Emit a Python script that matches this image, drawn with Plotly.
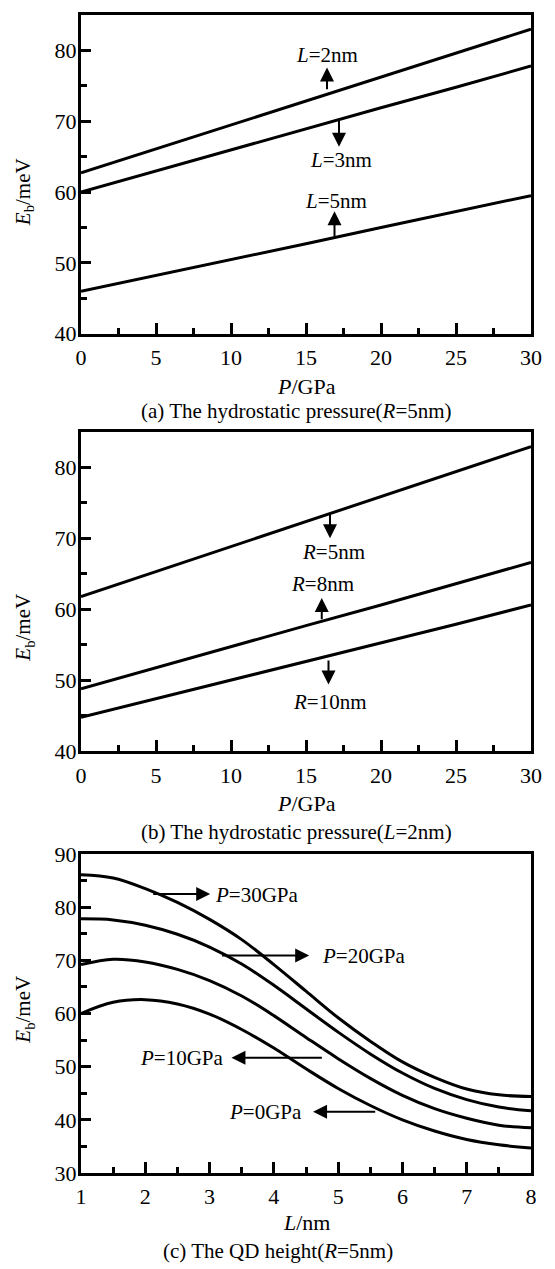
import plotly.graph_objects as go

# ---------------- data ----------------
P_vals = [0, 5, 10, 15, 20, 25, 30]
Eb_L2 = [62.7, 66.1, 69.5, 72.9, 76.3, 79.7, 83.0]
Eb_L3 = [60.0, 63.0, 65.9, 68.9, 71.9, 74.8, 77.8]
Eb_L5 = [46.0, 48.2, 50.5, 52.7, 55.0, 57.3, 59.5]

Eb_R5 = [61.8, 65.3, 68.8, 72.3, 75.9, 79.4, 82.9]
Eb_R8 = [48.8, 51.8, 54.7, 57.7, 60.6, 63.6, 66.6]
Eb_R10 = [44.8, 47.4, 50.0, 52.6, 55.2, 57.9, 60.6]

L_vals = [1, 1.5, 2, 2.5, 3, 3.5, 4, 4.5, 5, 5.5, 6, 6.5, 7, 7.5, 8]
Eb_P30 = [86.1, 85.5, 83.5, 80.9, 77.7, 73.9, 69.2, 64.2, 59.2, 54.8, 50.9, 48.0, 45.8, 44.7, 44.4]
Eb_P20 = [77.8, 77.6, 76.6, 74.9, 72.5, 69.3, 65.3, 60.9, 56.5, 52.4, 48.8, 45.9, 43.8, 42.4, 41.7]
Eb_P10 = [69.2, 70.2, 69.7, 68.3, 66.2, 63.3, 59.6, 55.5, 51.5, 47.8, 44.6, 42.1, 40.3, 39.0, 38.5]
Eb_P0 = [60.0, 62.1, 62.6, 61.8, 59.9, 57.0, 53.5, 49.6, 45.9, 42.7, 40.0, 37.9, 36.3, 35.3, 34.7]

# ---------------- layout helpers ----------------
W, H = 555, 1269
ML, MR, MT, MB = 81, 24, 3, 96
PW = W - ML - MR
PH = H - MT - MB
FONT = "Liberation Serif, Times New Roman, serif"
FS = 21
TFS = 22


def px(x):
    return (x - ML) / PW


def py(y):
    return (H - MB - y) / PH


fig = go.Figure()

line_style = dict(color="black", width=3)

for ys in [Eb_L2, Eb_L3, Eb_L5]:
    fig.add_trace(go.Scatter(x=P_vals, y=ys, mode="lines", line=line_style,
                             xaxis="x", yaxis="y", showlegend=False))
for ys in [Eb_R5, Eb_R8, Eb_R10]:
    fig.add_trace(go.Scatter(x=P_vals, y=ys, mode="lines", line=line_style,
                             xaxis="x2", yaxis="y2", showlegend=False))
for ys in [Eb_P30, Eb_P20, Eb_P10, Eb_P0]:
    fig.add_trace(go.Scatter(x=L_vals, y=ys, mode="lines",
                             line=dict(color="black", width=3, shape="spline", smoothing=1.0),
                             xaxis="x3", yaxis="y3", showlegend=False))


def xaxis(dom_anchor, rng, dtick, minor):
    return dict(
        domain=[0, 1], anchor=dom_anchor, range=rng, dtick=dtick, tick0=rng[0],
        showline=True, linecolor="black", linewidth=3, mirror=True,
        ticks="inside", ticklen=11, tickwidth=3, tickcolor="black",
        minor=dict(dtick=minor, ticks="inside", ticklen=6, tickwidth=3, tickcolor="black"),
        showgrid=False, zeroline=False,
        tickfont=dict(family=FONT, size=TFS, color="black"),
        ticklabelstandoff=2,
    )


def yaxis(dom, dom_anchor, rng):
    return dict(
        domain=dom, anchor=dom_anchor, range=rng, dtick=10, tick0=rng[0],
        showline=True, linecolor="black", linewidth=3, mirror=True,
        ticks="inside", ticklen=10, tickwidth=3, tickcolor="black",
        minor=dict(dtick=5, ticks="inside", ticklen=6, tickwidth=3, tickcolor="black"),
        showgrid=False, zeroline=False,
        tickfont=dict(family=FONT, size=TFS, color="black"),
        ticklabelstandoff=-3,
    )


fig.update_layout(
    width=W, height=H,
    margin=dict(l=ML, r=MR, t=MT, b=MB),
    paper_bgcolor="white", plot_bgcolor="white",
    font=dict(family=FONT, size=FS, color="black"),
    xaxis=xaxis("y", [0, 30], 5, 2.5),
    yaxis=yaxis([py(325), 1.0], "x", [40, 85]),
    xaxis2=xaxis("y2", [0, 30], 5, 2.5),
    yaxis2=yaxis([py(747), py(424)], "x2", [40, 85]),
    xaxis3=xaxis("y3", [1, 8], 1, 0.5),
    yaxis3=yaxis([0, py(850.7)], "x3", [30, 90]),
)

ann = []


def text(x, y, s, xref="paper", yref="paper", xanchor="center", size=FS):
    ann.append(dict(x=x, y=y, xref=xref, yref=yref, text=s, showarrow=False,
                    xanchor=xanchor, yanchor="middle",
                    font=dict(family=FONT, size=size, color="black")))


def arrow(x0, y0, x1, y1, xr, yr):
    ann.append(dict(x=x1, y=y1, ax=x0, ay=y0, xref=xr, yref=yr, axref=xr, ayref=yr,
                    text="", showarrow=True, arrowhead=2, arrowsize=1.4,
                    arrowwidth=2, arrowcolor="black", standoff=0, startstandoff=0))


# axis titles and captions
ytitle = "<i>E</i><sub>b</sub>/meV"
for yc in [182, 622, 1008]:
    ann.append(dict(x=px(24), y=py(yc), xref="paper", yref="paper", text=ytitle,
                    showarrow=False, textangle=-90, xanchor="center", yanchor="middle",
                    font=dict(family=FONT, size=FS, color="black")))
text(px(306), py(378.3), "<i>P</i>/GPa", size=22)
text(px(306), py(799.3), "<i>P</i>/GPa", size=22)
text(px(306), py(1223.3), "<i>L</i>/nm", size=22)
text(px(296), py(403), "(a) The hydrostatic pressure(<i>R</i>=5nm)")
text(px(296), py(828.3), "(b) The hydrostatic pressure(<i>L</i>=2nm)")
text(px(278), py(1251.7), "(c) The QD height(<i>R</i>=5nm)")

# panel (a) labels
arrow(16.4, 74.3, 16.4, 77.6, "x", "y")
text(16.4, 79.4, "<i>L</i>=2nm", "x", "y")
arrow(17.2, 70.4, 17.2, 66.4, "x", "y")
text(17.35, 64.5, "<i>L</i>=3nm", "x", "y")
arrow(16.9, 53.6, 16.9, 57.3, "x", "y")
text(17.0, 58.7, "<i>L</i>=5nm", "x", "y")

# panel (b) labels
arrow(16.6, 73.7, 16.6, 70.0, "x2", "y2")
text(16.8, 68.0, "<i>R</i>=5nm", "x2", "y2")
arrow(16.05, 58.4, 16.05, 61.6, "x2", "y2")
text(16.1, 63.5, "<i>R</i>=8nm", "x2", "y2")
arrow(16.5, 53.0, 16.5, 49.4, "x2", "y2")
text(16.6, 46.9, "<i>R</i>=10nm", "x2", "y2")

# panel (c) labels
arrow(2.10, 82.5, 3.01, 82.5, "x3", "y3")
text(3.06, 82.3, "<i>P</i>=30GPa", "x3", "y3", xanchor="left")
arrow(3.17, 70.9, 4.55, 70.9, "x3", "y3")
text(4.72, 70.9, "<i>P</i>=20GPa", "x3", "y3", xanchor="left")
arrow(4.77, 51.7, 3.34, 51.7, "x3", "y3")
text(3.26, 51.7, "<i>P</i>=10GPa", "x3", "y3", xanchor="right")
arrow(5.60, 41.5, 4.61, 41.5, "x3", "y3")
text(4.47, 41.4, "<i>P</i>=0GPa", "x3", "y3", xanchor="right")

fig.update_layout(annotations=ann)
fig.write_html("out.html")
